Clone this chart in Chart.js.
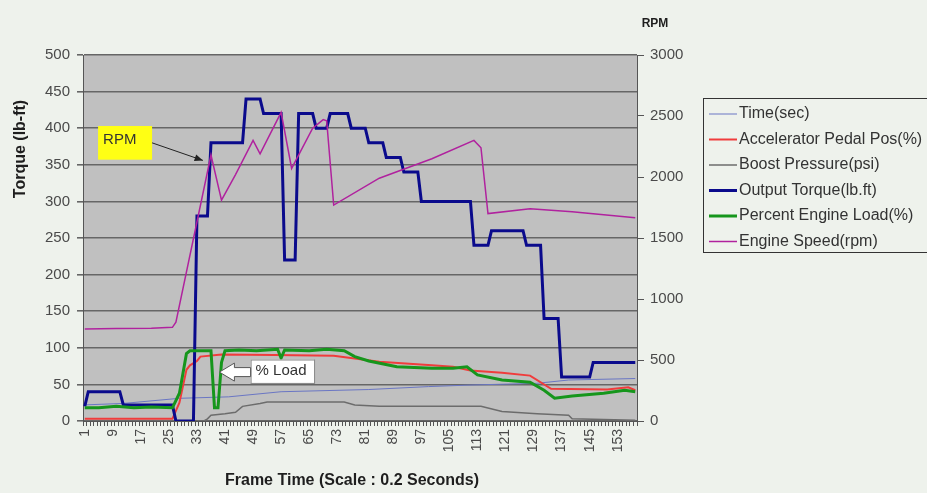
<!DOCTYPE html>
<html>
<head>
<meta charset="utf-8">
<script src="https://cdn.jsdelivr.net/npm/chart.js@4/dist/chart.umd.min.js"></script>
<style>
  body { margin: 0; background: #eef2ec; }
  canvas { display: block; }
</style>
</head>
<body>
<canvas id="engineChart" width="927" height="493"></canvas>
<script>
// frame numbers on the x axis (one per 0.2 s sample)
const frameLabels = Array.from({ length: 158 }, (_, i) => String(i + 1));

// each series is given as breakpoints: frame -> value
const timeFrames = [1, 12, 28, 42, 57, 82, 99, 110, 130, 139, 158];
const timeValues = [22, 24, 31, 33, 40, 43, 47, 49, 51.5, 56, 58];

const pedalFrames = [1, 26, 28, 30, 31, 33, 34, 40, 55, 72, 85, 100, 106, 111, 120, 128, 134, 150, 156, 158];
const pedalValues = [3, 3, 25, 70, 76, 82, 88, 91, 90, 89, 81, 76, 74, 69, 66, 62, 44, 43, 46, 42];

const boostFrames = [1, 35, 36, 37, 41, 44, 46, 51, 53, 75, 78, 85, 114, 120, 130, 139, 140, 158];
const boostValues = [0, 0, 3, 8, 10, 12, 20, 24, 26, 26, 22, 20, 20, 13, 10, 8, 3, 1];

const torqueFrames = [1, 2, 11, 12, 26, 27, 32, 33, 36, 37, 46, 47, 51, 52, 57, 58, 61, 62, 66, 67,
  70, 71, 76, 77, 81, 82, 86, 87, 91, 92, 96, 97, 111, 112, 116, 117, 126, 127, 131, 132, 136, 137, 145, 146, 158];
const torqueValues = [20, 40, 40, 22, 22, 0, 0, 280, 280, 380, 380, 440, 440, 420, 420, 220, 220, 420, 420, 400,
  400, 420, 420, 400, 400, 380, 380, 360, 360, 340, 340, 300, 300, 240, 240, 260, 260, 240, 240, 140, 140, 60, 60, 80, 80];

const loadFrames = [1, 5, 10, 15, 20, 26, 28, 29, 30, 31, 37, 38, 39, 40, 41, 45, 50, 56, 57, 58, 65, 70, 75, 78,
  82, 90, 100, 106, 110, 113, 120, 128, 132, 135, 140, 149, 155, 158];
const loadValues = [18, 18, 20, 18, 19, 18, 38, 65, 92, 96, 96, 18, 18, 80, 96, 97, 96, 98, 86, 97, 96, 98, 96, 88,
  82, 74, 72, 72, 74, 63, 56, 53, 42, 31, 34, 38, 42, 40];

const rpmFrames = [1, 10, 20, 26, 27, 37, 40, 44, 49, 51, 57, 60, 66, 69, 70, 72, 85, 100, 112, 114, 116, 128, 140, 158];
const rpmValues = [755, 758, 760, 768, 810, 2180, 1810, 2020, 2300, 2190, 2530, 2070, 2400, 2470, 2460, 1770,
  1990, 2150, 2300, 2240, 1700, 1740, 1715, 1665];

const torqueTicks = { min: 0, max: 500, step: 50 };
const rpmTicks = { min: 0, max: 3000, step: 500 };

function points(frames, values) {
  return frames.map((f, i) => ({ x: String(f), y: values[i] }));
}

const series = [
  { label: 'Time(sec)', data: points(timeFrames, timeValues), color: '#6a76c4', width: 1, axis: 'y' },
  { label: 'Accelerator Pedal Pos(%)', data: points(pedalFrames, pedalValues), color: '#f03c3c', width: 2, axis: 'y' },
  { label: 'Boost Pressure(psi)', data: points(boostFrames, boostValues), color: '#6c6c6c', width: 1.5, axis: 'y' },
  { label: 'Output Torque(lb.ft)', data: points(torqueFrames, torqueValues), color: '#0a0a8c', width: 3, axis: 'y' },
  { label: 'Percent Engine Load(%)', data: points(loadFrames, loadValues), color: '#16961c', width: 3, axis: 'y' },
  { label: 'Engine Speed(rpm)', data: points(rpmFrames, rpmValues), color: '#b0229e', width: 1.5, axis: 'y1' }
];

const tickColor = '#4a4a4a';
const gridColor = '#666666';

const backdrop = {
  id: 'backdrop',
  beforeDraw(chart) {
    const { ctx, chartArea: a } = chart;
    ctx.save();
    ctx.fillStyle = '#eef2ec';
    ctx.fillRect(0, 0, chart.width, chart.height);
    ctx.fillStyle = '#c0c0c0';
    ctx.fillRect(a.left, a.top, a.right - a.left, a.bottom - a.top);
    ctx.restore();
  }
};

function arrowHead(ctx, x1, y1, x2, y2, size) {
  const ang = Math.atan2(y2 - y1, x2 - x1);
  ctx.beginPath();
  ctx.moveTo(x2, y2);
  ctx.lineTo(x2 - size * Math.cos(ang - 0.4), y2 - size * Math.sin(ang - 0.4));
  ctx.lineTo(x2 - size * Math.cos(ang + 0.4), y2 - size * Math.sin(ang + 0.4));
  ctx.closePath();
  ctx.fill();
}

const extras = {
  id: 'extras',
  afterDraw(chart) {
    const { ctx } = chart;
    const xs = chart.scales.x, ys = chart.scales.y;
    const px = f => xs.getPixelForValue(f - 1);
    const py = v => ys.getPixelForValue(v);
    ctx.save();

    // axis titles
    ctx.fillStyle = '#1e1e1e';
    ctx.font = 'bold 16px "Liberation Sans", Arial, sans-serif';
    ctx.textAlign = 'center';
    ctx.textBaseline = 'middle';
    ctx.fillText('Frame Time (Scale : 0.2 Seconds)', 352, 481);
    ctx.save();
    ctx.translate(21, 149);
    ctx.rotate(-Math.PI / 2);
    ctx.fillText('Torque (lb-ft)', 0, 0);
    ctx.restore();
    ctx.font = 'bold 12px "Liberation Sans", Arial, sans-serif';
    ctx.fillText('RPM', 655, 24);

    // "RPM" note
    const bx1 = px(4.8), bx2 = px(20.2), by1 = py(403), by2 = py(357);
    ctx.fillStyle = '#ffff14';
    ctx.fillRect(bx1, by1, bx2 - bx1, by2 - by1);
    ctx.fillStyle = '#333';
    ctx.font = '15px "Liberation Sans", Arial, sans-serif';
    ctx.textAlign = 'left';
    ctx.fillText('RPM', bx1 + 5, (by1 + by2) / 2 - 3);
    const ax1 = bx2, ay1 = py(380), ax2 = px(34.7), ay2 = py(356);
    ctx.strokeStyle = '#222';
    ctx.lineWidth = 1;
    ctx.beginPath();
    ctx.moveTo(ax1, ay1);
    ctx.lineTo(ax2, ay2);
    ctx.stroke();
    ctx.fillStyle = '#222';
    arrowHead(ctx, ax1, ay1, ax2, ay2, 9);

    // "% Load" note
    const lx1 = px(48.3), lx2 = px(66.4), ly1 = py(84), ly2 = py(52);
    ctx.fillStyle = '#ffffff';
    ctx.fillRect(lx1, ly1, lx2 - lx1, ly2 - ly1);
    ctx.strokeStyle = '#8a8a8a';
    ctx.strokeRect(lx1 + 0.5, ly1 + 0.5, lx2 - lx1, ly2 - ly1);
    ctx.fillStyle = '#333';
    ctx.fillText('% Load', lx1 + 5, (ly1 + ly2) / 2);
    const tipX = px(39.4), tipY = py(66.8), headX = tipX + 15;
    ctx.beginPath();
    ctx.moveTo(tipX, tipY);
    ctx.lineTo(headX, tipY - 9);
    ctx.lineTo(headX, tipY - 4.5);
    ctx.lineTo(lx1, tipY - 4.5);
    ctx.lineTo(lx1, tipY + 4.5);
    ctx.lineTo(headX, tipY + 4.5);
    ctx.lineTo(headX, tipY + 9);
    ctx.closePath();
    ctx.fillStyle = '#ffffff';
    ctx.fill();
    ctx.strokeStyle = '#555';
    ctx.stroke();

    // legend
    ctx.fillStyle = '#eef2ec';
    ctx.strokeStyle = '#333';
    ctx.lineWidth = 1;
    ctx.fillRect(703.5, 98.5, 240, 154);
    ctx.strokeRect(703.5, 98.5, 240, 154);
    ctx.font = '16px "Liberation Sans", Arial, sans-serif';
    ctx.textAlign = 'left';
    chart.data.datasets.forEach((ds, i) => {
      const y = 114 + i * 25.5;
      ctx.strokeStyle = ds.borderColor;
      ctx.lineWidth = ds.borderWidth;
      ctx.beginPath();
      ctx.moveTo(709, y);
      ctx.lineTo(737, y);
      ctx.stroke();
      ctx.fillStyle = '#333';
      ctx.fillText(ds.label, 739, y);
    });
    ctx.restore();
  }
};

new Chart(document.getElementById('engineChart').getContext('2d'), {
  type: 'line',
  data: {
    labels: frameLabels,
    datasets: series.map((s, i) => ({
      label: s.label,
      data: s.data,
      borderColor: s.color,
      backgroundColor: s.color,
      borderWidth: s.width,
      pointRadius: 0,
      tension: 0,
      fill: false,
      yAxisID: s.axis,
      order: series.length - 1 - i
    }))
  },
  options: {
    responsive: false,
    animation: false,
    layout: { padding: { top: 55, right: 230, left: 0, bottom: 0 } },
    plugins: {
      legend: { display: false },
      tooltip: { enabled: false }
    },
    scales: {
      x: {
        offset: true,
        grid: { display: true, offset: true, drawOnChartArea: false, tickLength: 5, color: '#555' },
        border: { color: '#555' },
        ticks: {
          autoSkip: false,
          minRotation: 90,
          maxRotation: 90,
          padding: 3,
          color: tickColor,
          font: { family: '"Liberation Sans", Arial, sans-serif', size: 14 },
          callback: (v, i) => (i % 8 === 0 ? frameLabels[i] : '')
        },
        afterFit: scale => { scale.height = 72; }
      },
      y: {
        position: 'left',
        min: torqueTicks.min,
        max: torqueTicks.max,
        grid: { color: gridColor, lineWidth: 1.6, tickLength: 6 },
        border: { color: '#555' },
        ticks: {
          stepSize: torqueTicks.step,
          padding: 7,
          color: tickColor,
          font: { family: '"Liberation Sans", Arial, sans-serif', size: 15 },
          callback: v => String(v)
        },
        afterFit: scale => { scale.width = 83; }
      },
      y1: {
        position: 'right',
        min: rpmTicks.min,
        max: rpmTicks.max,
        grid: { drawOnChartArea: false, color: '#555', tickLength: 7 },
        border: { color: '#555' },
        ticks: {
          stepSize: rpmTicks.step,
          padding: 6,
          color: tickColor,
          font: { family: '"Liberation Sans", Arial, sans-serif', size: 15 },
          callback: v => String(v)
        },
        afterFit: scale => { scale.width = 60; }
      }
    }
  },
  plugins: [backdrop, extras]
});
</script>
</body>
</html>
